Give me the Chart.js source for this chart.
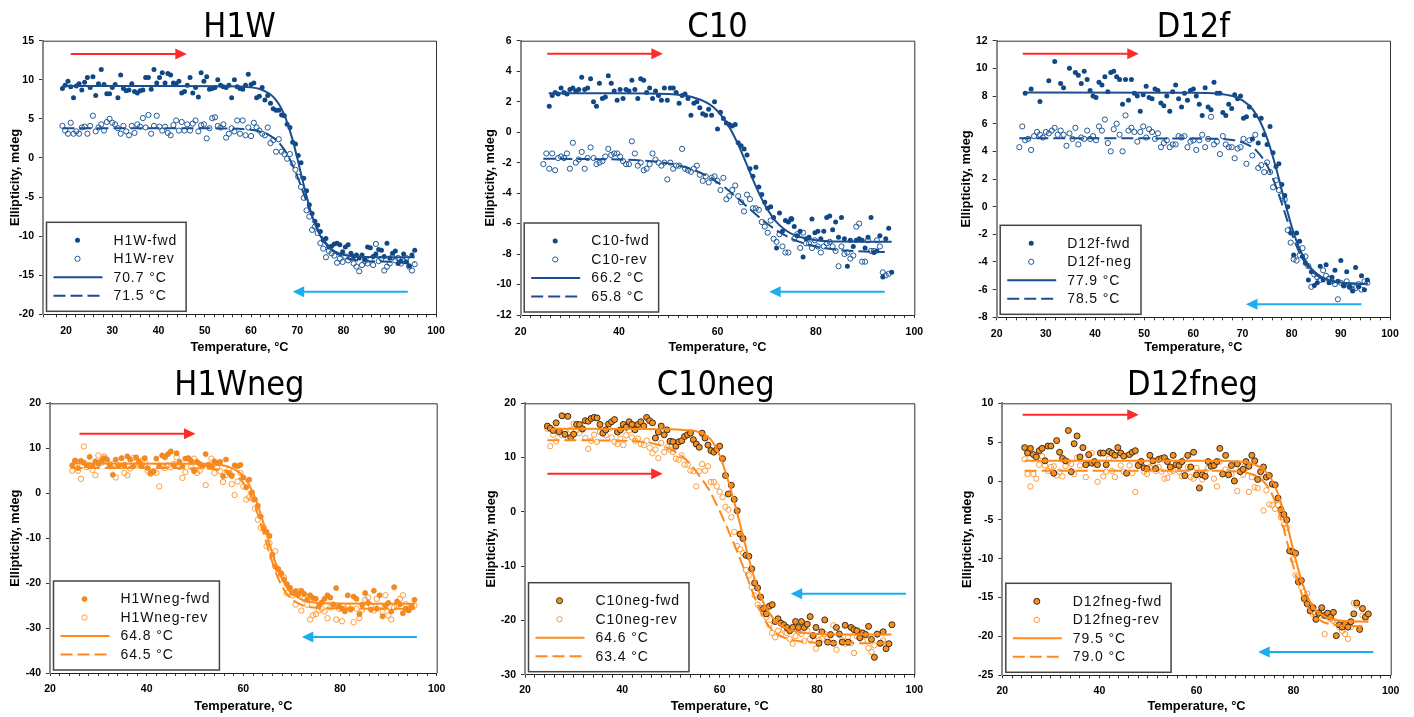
<!DOCTYPE html>
<html>
<head>
<meta charset="utf-8">
<title>Thermal melts</title>
<script src="https://cdn.jsdelivr.net/npm/chart.js@4.4.1/dist/chart.umd.min.js"></script>
<style>
  body { margin: 0; background: #fff; overflow: hidden; }
  #wrap { position: relative; width: 1414px; height: 717px; }
  #wrap canvas { position: absolute; }
</style>
</head>
<body>
<div id="wrap"></div>
<script>
// Temperature grids (°C)
const tempsH1W = [
  19.2,19.8,20.4,21,21.6,22.2,22.8,23.4,24,24.6,
  25.2,25.8,26.4,27,27.6,28.2,28.8,29.4,30,30.6,
  31.2,31.8,32.4,33,33.6,34.2,34.8,35.4,36,36.6,
  37.2,37.8,38.4,39,39.6,40.2,40.8,41.4,42,42.6,
  43.2,43.8,44.4,45,45.6,46.2,46.8,47.4,48,48.6,
  49.2,49.8,50.4,51,51.6,52.2,52.8,53.4,54,54.6,
  55.2,55.8,56.4,57,57.6,58.2,58.8,59.4,60,60.6,
  61.2,61.8,62.4,63,63.6,64.2,64.8,65.4,66,66.6,
  67.2,67.8,68.4,69,69.6,70.2,70.8,71.4,72,72.6,
  73.2,73.8,74.4,75,75.6,76.2,76.8,77.4,78,78.6,
  79.2,79.8,80.4,81,81.6,82.2,82.8,83.4,84,84.6,
  85.2,85.8,86.4,87,87.6,88.2,88.8,89.4,90,90.6,
  91.2,91.8,92.4,93,93.6,94.2,94.8,95.4
];
const tempsStd = [
  24.6,25.2,25.8,26.4,27,27.6,28.2,28.8,29.4,30,
  30.6,31.2,31.8,32.4,33,33.6,34.2,34.8,35.4,36,
  36.6,37.2,37.8,38.4,39,39.6,40.2,40.8,41.4,42,
  42.6,43.2,43.8,44.4,45,45.6,46.2,46.8,47.4,48,
  48.6,49.2,49.8,50.4,51,51.6,52.2,52.8,53.4,54,
  54.6,55.2,55.8,56.4,57,57.6,58.2,58.8,59.4,60,
  60.6,61.2,61.8,62.4,63,63.6,64.2,64.8,65.4,66,
  66.6,67.2,67.8,68.4,69,69.6,70.2,70.8,71.4,72,
  72.6,73.2,73.8,74.4,75,75.6,76.2,76.8,77.4,78,
  78.6,79.2,79.8,80.4,81,81.6,82.2,82.8,83.4,84,
  84.6,85.2,85.8,86.4,87,87.6,88.2,88.8,89.4,90,
  90.6,91.2,91.8,92.4,93,93.6,94.2,94.8,95.4
];

// H1W ellipticity (mdeg)
const h1wFwd = [
  8.9,9.3,9.8,9.1,7.7,9.2,9.5,8.7,9.7,10.3,
  9.0,10.4,8.0,9.5,11.3,9.4,8.2,8.2,9.0,9.4,
  7.7,10.6,8.9,8.6,8.7,9.5,8.5,8.3,8.6,8.7,
  10.3,10.3,8.8,11.3,9.6,10.3,10.9,9.6,10.8,10.6,
  9.6,9.5,9.8,8.3,8.5,9.3,10.3,8.3,9.0,7.8,
  10.9,9.8,10.4,8.8,8.9,9.0,10.0,9.3,9.1,9.0,
  9.3,7.7,10.0,9.1,8.9,8.8,9.3,10.7,9.4,9.6,
  7.7,7.9,9.0,7.4,8.0,7.0,6.3,6.1,6.1,5.5,
  5.4,4.3,3.9,2.0,1.8,0.3,-0.6,-2.6,-4.2,-6.0,
  -7.1,-8.1,-8.6,-9.4,-10.5,-10.3,-11.4,-11.3,-11.0,-10.9,
  -11.1,-12.0,-11.4,-11.1,-12.2,-12.6,-12.4,-12.8,-12.4,-12.9,
  -11.4,-11.5,-12.6,-12.3,-11.7,-11.8,-12.6,-10.9,-12.8,-12.2,
  -11.9,-13.5,-13.2,-12.3,-13.3,-13.8,-12.4,-11.8
];
const h1wRev = [
  4.1,3.5,3.1,4.5,3.1,3.4,3.1,3.9,4.0,3.1,
  4.1,5.4,3.4,3.9,4.3,3.5,4.6,5.0,4.5,4.3,
  3.8,3.1,4.1,3.4,2.9,4.1,3.2,4.3,4.0,5.1,
  3.9,5.5,3.1,4.1,5.4,4.0,3.5,4.0,3.2,2.9,
  4.2,4.8,3.5,4.6,3.5,4.3,3.5,4.4,4.8,3.4,
  4.2,4.3,2.5,3.8,5.1,5.2,4.1,3.9,4.3,2.6,
  3.1,3.8,3.4,4.8,3.1,4.8,2.9,3.9,2.8,4.5,
  3.9,3.5,3.1,2.9,3.9,1.9,2.3,0.8,2.4,0.8,
  0.5,-0.1,0.5,-0.7,-1.5,-2.4,-3.7,-5.1,-6.7,-7.5,
  -9.2,-8.8,-9.6,-10.9,-11.6,-12.7,-11.9,-12.2,-12.5,-13.4,
  -12.9,-13.3,-12.6,-13.1,-12.8,-13.5,-13.9,-14.5,-13.7,-13.2,
  -13.5,-13.0,-13.7,-11.0,-13.2,-12.9,-14.4,-13.9,-13.5,-12.7,
  -13.1,-12.8,-13.5,-13.2,-12.8,-13.9,-14.4,-13.6
];
const fitH1WT = [19.2,40,55,60,62,64,65,66,67,68,69,70,71,72,73,74,75,76,77,78,80,82,85,95.4];
const fitH1WFwd = [9.2,9.2,9.18,9.03,8.79,8.21,7.68,6.89,5.77,4.24,2.28,-0.02,-2.5,-4.88,-7.0,-8.7,-9.98,-10.89,-11.51,-11.93,-12.39,-12.57,-12.66,-12.7];
const fitH1WRev = [3.8,3.8,3.77,3.6,3.37,2.9,2.5,1.97,1.23,0.28,-0.94,-2.34,-3.93,-5.57,-7.15,-8.56,-9.77,-10.73,-11.45,-12.0,-12.67,-13.0,-13.2,-13.3];

// C10
const c10Fwd = [
  null,null,1.7,2.4,2.6,2.5,2.9,2.6,2.5,2.8,
  2.9,2.7,2.8,3.6,2.8,2.9,3.5,2.0,1.7,3.2,
  2.2,2.3,3.7,3.2,2.7,2.1,2.8,2.2,2.8,2.7,
  3.4,2.8,2.2,3.5,3.4,2.6,2.9,2.2,2.7,2.4,
  2.1,2.9,2.1,2.9,2.9,2.6,1.9,2.4,2.5,2.2,
  1.1,1.9,2.0,1.6,1.2,1.1,1.5,1.1,2.0,0.2,
  1.3,0.9,0.6,0.5,0.4,0.5,-0.7,-0.9,-1.1,-1.5,
  -2.4,-2.9,-2.3,-3.6,-4.1,-4.6,-5.0,-4.9,-5.6,-7.6,
  -5.3,-6.5,-5.8,-5.9,-5.7,-6.2,-6.8,-6.5,-8.2,-7.0,
  -6.9,-5.7,-6.6,-6.5,-7.0,-6.5,-5.6,-5.5,-6.4,-5.9,
  -6.9,-5.6,-7.0,-8.8,-7.1,-7.5,-7.1,-7.0,-7.1,-7.6,
  -6.9,-5.6,-7.9,-7.8,-6.8,-9.5,-7.0,-6.3,-9.2
];
const c10Rev = [
  -2.1,-1.4,-2.4,-1.4,-2.5,-1.7,-1.6,-1.7,-1.4,-2.4,
  -0.7,-2.0,-1.8,-1.3,-2.4,-1.7,-1.0,-1.7,-2.1,-2.0,
  -1.9,-1.6,-1.1,-1.5,-1.4,-1.4,-1.6,-1.9,-2.1,-2.1,
  -0.6,-1.4,-2.2,-2.0,-2.5,-2.4,-2.1,-1.4,-1.8,-2.0,
  -2.2,-2.0,-3.1,-2.0,-2.4,-2.2,-2.2,-1.1,-2.4,-2.5,
  -2.6,-2.4,-2.2,-2.8,-3.2,-2.9,-3.3,-3.0,-2.9,-3.2,
  -3.8,-3.0,-4.4,-4.2,-3.8,-3.5,-4.2,-4.6,-5.2,-4.1,
  -4.4,-5.0,-5.0,-5.1,-5.9,-6.2,-6.6,-5.8,-7.0,-7.2,
  -6.7,-7.5,-7.9,-7.9,-5.7,-7.0,-6.7,-7.6,-6.6,-7.3,
  -7.3,-7.6,-7.1,-7.5,-7.9,-7.5,-7.3,-7.2,-7.5,-7.8,
  -8.8,-7.5,-8.0,-7.9,-8.3,-8.1,-6.2,-6.0,-8.5,-8.5,
  -7.1,-7.8,-7.8,-7.1,-7.5,-9.2,-9.4,-9.3,null
];
const fitC10FwdT = [25.7,40,50,55,58,60,62,64,66,68,70,72,74,76,80,85,95.4];
const fitC10Fwd = [2.55,2.55,2.5,2.29,1.9,1.39,0.54,-0.67,-2.17,-3.71,-4.99,-5.9,-6.47,-6.8,-7.09,-7.18,-7.2];
const fitC10RevT = [24.6,35,45,50,55,58,60,62,64,66,68,70,72,75,78,82,86,90,94];
const fitC10Rev = [-1.75,-1.77,-1.87,-2.05,-2.46,-2.9,-3.3,-3.76,-4.31,-4.89,-5.45,-5.98,-6.44,-6.98,-7.34,-7.62,-7.77,-7.84,-7.87];

// D12f
const d12fFwd = [
  null,null,8.2,null,8.5,null,null,7.6,null,null,
  9.1,null,10.5,null,8.9,8.6,null,10.0,null,9.7,
  9.5,8.9,9.8,9.2,8.4,8.0,7.9,9.0,8.8,9.4,
  8.3,9.7,9.8,9.4,9.2,7.4,9.2,7.7,9.2,8.2,
  8.0,6.9,8.1,8.7,7.9,7.8,8.5,8.4,7.5,7.3,
  8.0,6.9,8.3,8.8,7.8,7.2,8.2,7.7,8.4,8.5,
  8.0,7.4,6.6,8.6,7.2,7.0,9.0,8.2,8.2,6.8,
  6.6,7.4,7.1,8.1,7.8,8.0,6.4,6.5,7.2,4.9,
  6.6,4.6,6.4,5.2,4.5,5.8,3.9,2.9,3.1,1.6,
  0.8,0.0,-1.9,-3.5,-1.9,-2.5,-3.6,-4.1,-5.3,-4.7,
  -5.7,-5.5,-4.3,-5.3,-4.2,-5.5,-5.1,-4.6,-5.4,-3.9,
  -5.7,-4.7,-5.8,-6.1,-4.4,-5.8,-5.0,-6.0,-5.3
];
const d12fRev = [
  4.3,5.8,4.8,4.9,4.1,5.1,5.4,5.2,5.0,5.4,
  5.3,5.5,5.7,5.2,5.5,5.2,4.4,5.3,4.9,5.7,
  4.5,5.0,4.9,5.5,4.9,5.1,4.8,5.8,5.5,6.3,
  4.6,4.0,5.6,6.0,5.2,4.0,6.6,5.5,5.7,5.4,
  4.7,5.4,5.8,5.0,5.6,5.4,4.9,5.3,4.3,4.6,
  4.8,4.3,4.5,4.5,5.1,5.0,5.1,4.3,4.7,4.8,
  4.1,4.8,5.2,4.3,4.9,6.5,4.5,4.7,3.8,5.1,
  4.5,4.3,4.3,3.5,4.2,4.3,4.9,3.1,4.8,3.7,
  5.2,2.8,3.0,2.5,3.2,2.5,1.4,1.9,1.2,0.8,
  0.5,-1.7,-2.6,-3.8,-3.9,-3.5,-3.0,-3.6,-4.3,-5.8,
  -4.9,-5.1,-5.3,-4.6,-5.0,-5.2,-5.4,-5.6,-6.7,-5.5,
  -5.7,-5.4,-5.8,-6.0,-5.9,-5.6,-6.0,-5.4,-5.5
];
const fitD12fFwdT = [26.2,60,65,68,70,72,73,74,75,76,77,78,79,80,81,82,83,84,86,88,91,95.5];
const fitD12fFwd = [8.25,8.24,8.17,7.99,7.68,7.06,6.53,5.84,4.94,3.83,2.56,1.19,-0.17,-1.43,-2.5,-3.35,-4.0,-4.49,-5.08,-5.36,-5.52,-5.58];
const fitD12fRevT = [24.6,65,68,70,72,73,74,75,76,77,78,79,80,81,82,83,84,86,88,91,95];
const fitD12fRev = [4.95,4.91,4.82,4.65,4.29,3.98,3.55,2.97,2.2,1.27,0.23,-0.87,-1.93,-2.85,-3.61,-4.2,-4.63,-5.16,-5.4,-5.54,-5.6];

// H1Wneg
const h1wnFwd = [
  6.2,7.2,5.6,7.2,6.8,6.2,8.1,6.0,7.1,6.5,
  7.2,7.8,7.5,6.3,4.1,7.5,6.0,7.8,6.3,8.2,
  7.5,6.0,8.0,7.1,6.2,7.8,5.6,4.5,4.9,7.7,
  6.2,8.4,8.0,8.7,9.3,6.2,8.9,7.0,6.0,7.7,
  7.8,7.2,4.9,7.0,6.5,6.2,8.7,6.3,6.0,7.1,
  6.7,7.0,3.8,7.5,4.5,3.8,6.2,6.0,6.3,3.5,
  1.3,3.0,0.2,-1.4,-2.8,-5.2,-7.9,-8.6,-9.5,-13.6,
  -16.3,-16.9,-17.8,-19.2,-20.2,-21.1,-22.2,-21.8,-22.5,-21.7,
  -22.4,-23.7,-22.7,-23.3,-23.5,-25.2,-24.3,-23.5,-22.7,-23.2,
  -24.7,-21.1,-25.2,-25.7,-26.3,-22.7,-25.9,-23.0,-23.5,-26.9,
  -24.8,-22.2,-24.4,-25.9,-21.7,-25.7,-22.7,-27.4,-25.0,-24.4,
  -26.3,-20.9,-24.1,-24.7,-26.7,-25.7,-26.1,-25.4,-23.7
];
const h1wnRev = [
  5.0,7.2,5.0,3.2,10.4,5.8,6.2,5.2,4.0,8.4,
  6.7,8.2,7.1,6.0,6.5,3.5,6.2,6.0,4.5,4.0,
  5.5,7.8,6.2,6.5,7.2,7.0,5.0,4.3,4.7,4.5,
  1.5,6.0,5.6,6.2,5.8,6.5,8.0,5.8,3.4,4.7,
  7.7,5.8,7.7,4.5,5.0,6.0,1.8,6.3,7.7,4.5,
  5.6,4.9,2.5,4.0,5.2,2.0,-0.4,2.6,4.5,1.5,
  -1.4,-0.9,-1.2,-3.4,-5.9,-7.7,-7.6,-11.8,-11.1,-14.3,
  -12.9,-16.9,-18.1,-18.7,-22.2,-21.1,-22.7,-24.8,-21.8,-26.1,
  -23.5,-24.8,-28.1,-27.2,-26.9,-26.1,-25.7,-26.3,-27.8,-25.4,
  -25.0,-28.1,-25.7,-28.5,-25.7,-25.2,-25.7,-28.7,-25.7,-27.8,
  -25.9,-23.7,-23.2,-25.0,-26.1,-23.5,-25.0,-26.4,-22.7,-27.2,
  -28.1,-25.4,-25.0,-23.5,-22.7,-24.7,-25.9,-25.2,-25.0
];
const fitH1WnFwdT = [24.6,50,55,57,59,60,61,62,63,64,65,66,67,68,69,70,72,74,77,95.5];
const fitH1WnFwd = [6.6,6.57,6.31,5.86,4.75,3.73,2.2,0.08,-2.7,-6.07,-9.74,-13.34,-16.5,-19.0,-20.9,-22.18,-23.62,-24.21,-24.5,-24.6];
const fitH1WnRevT = [24.3,50,55,57,59,60,61,62,63,64,65,66,67,68,69,70,72,74,77,95.5];
const fitH1WnRev = [5.6,5.57,5.26,4.74,3.47,2.32,0.63,-1.7,-4.7,-8.2,-11.9,-15.4,-18.4,-20.7,-22.4,-23.57,-24.84,-25.36,-25.6,-25.7];

// C10neg
const c10nFwd = [
  15.8,15.4,15.0,16.4,14.8,17.7,14.3,17.6,13.7,14.3,
  16.1,16.1,15.3,16.8,16.7,17.2,17.4,17.3,16.1,14.5,
  15.1,16.2,16.6,17.0,14.7,15.1,16.1,15.6,16.6,16.1,
  15.1,16.1,16.6,15.8,17.4,16.8,16.4,13.6,14.7,15.8,
  14.2,15.1,13.0,12.9,12.1,12.9,13.1,13.9,14.2,14.5,
  13.3,12.5,11.9,14.5,13.6,12.3,11.3,11.0,11.5,12.1,
  9.8,6.7,3.3,4.9,2.3,0.2,-4.1,-4.9,-8.0,-8.2,
  -10.5,-13.1,-14.0,-15.7,-17.8,-18.8,-17.4,-17.1,-20.2,-19.7,
  -20.5,-20.8,-21.3,-21.9,-21.3,-20.2,-21.3,-20.2,-21.3,-20.7,
  -19.3,-22.8,-21.3,-24.2,-22.1,-19.9,-24.0,-22.6,-24.2,-21.3,
  -22.5,-24.0,-20.9,-24.0,-21.3,-21.7,-21.9,-23.2,-22.3,-22.6,
  -21.1,-23.5,-26.8,-22.5,-24.2,-22.1,-25.2,-24.3,-20.8
];
const c10nRev = [
  15.3,12.1,14.2,13.0,14.5,14.1,14.8,13.6,15.1,16.2,
  15.0,14.5,15.1,13.6,11.6,13.1,14.2,12.9,14.7,15.9,
  14.1,15.3,13.7,12.9,12.5,13.5,12.3,14.1,15.0,13.7,
  13.1,13.5,12.5,12.3,13.1,11.8,10.8,11.5,9.9,12.7,
  11.0,11.9,11.5,11.0,9.8,9.6,10.4,8.7,8.7,7.6,
  7.5,4.7,7.5,8.8,7.6,8.4,5.5,5.5,4.7,3.7,
  2.7,0.9,0.4,-1.0,-3.7,-6.3,-6.9,-7.6,-10.7,-11.7,
  -13.9,-15.4,-17.1,-17.7,-18.8,-19.4,-20.8,-22.3,-23.1,-21.9,
  -22.6,-21.5,-22.3,-23.4,-24.3,-22.9,-22.1,-22.5,-23.8,-21.9,
  -23.4,-22.9,-25.2,-23.6,-23.4,-22.5,-23.2,-22.8,-20.9,-25.4,
  -22.6,-23.6,-24.3,-23.1,-24.2,-26.0,-22.9,-22.1,-23.8,-22.8,
  -25.1,-25.8,-24.6,-22.6,-24.3,-23.7,-24.3,null,null
];
const fitC10nFwdT = [24.9,45,50,53,55,57,58,59,60,61,62,63,64,65,66,67,68,69,70,72,74,77,80,95.3];
const fitC10nFwd = [15.3,15.28,15.2,15.05,14.9,14.2,13.5,12.3,10.4,7.9,5.0,1.8,-1.6,-5.14,-8.6,-11.84,-14.54,-16.7,-18.38,-20.52,-21.6,-22.28,-22.5,-22.6];
const fitC10nRevT = [24.6,40,45,48,50,52,54,56,57,58,59,60,61,62,63,64,65,66,67,68,69,70,71,72,74,77,80,94.3];
const fitC10nRev = [13.2,13.1,12.8,12.2,11.5,10.4,8.8,6.4,5.2,3.8,2.0,0.2,-1.8,-3.9,-6.0,-8.2,-10.5,-12.9,-15.3,-17.5,-19.4,-20.9,-21.9,-22.6,-23.4,-23.9,-24.1,-24.2];

// D12fneg
const d12fnFwd = [
  4.3,3.6,4.2,3.4,3.1,3.9,4.2,2.6,4.5,4.5,
  1.0,5.2,3.7,2.9,2.6,6.5,1.2,4.8,5.8,3.1,
  4.3,2.1,3.4,2.3,2.5,2.1,3.6,3.6,2.1,3.8,
  3.6,3.3,4.3,3.6,3.2,1.0,3.4,3.7,3.9,2.0,
  2.5,1.7,1.6,3.3,2.6,1.6,2.8,2.9,3.0,2.5,
  1.8,3.3,2.1,2.0,2.5,0.7,3.3,1.8,3.7,0.8,
  -0.9,0.8,0.6,2.5,1.9,2.0,2.5,4.2,0.9,3.3,
  0.8,2.0,0.0,2.2,1.2,1.5,2.5,1.9,3.3,2.6,
  0.2,1.2,1.8,0.5,0.7,-0.4,-0.5,-2.2,-3.7,-4.3,
  -5.0,-9.0,-9.1,-9.3,-13.0,-12.8,-15.1,-15.8,-16.7,-16.3,
  -17.8,-17.0,-16.3,-17.3,-17.0,-17.5,-16.9,-19.9,-18.5,-18.8,
  -18.4,-18.8,-18.1,-17.1,-15.7,-19.1,-16.4,-17.5,-17.1
];
const d12fnRev = [
  2.8,0.9,-0.7,0.9,0.3,2.1,3.2,2.0,1.3,1.8,
  1.9,0.7,1.2,0.6,1.9,2.5,2.2,0.9,3.0,2.0,
  4.3,0.5,3.3,3.6,2.1,-0.1,3.6,0.6,1.2,2.9,
  1.3,0.5,3.3,2.0,1.2,3.3,2.0,1.0,-1.4,2.2,
  2.6,1.2,0.9,1.8,2.2,1.3,1.8,1.2,0.3,0.4,
  1.2,1.3,1.5,1.2,0.6,2.8,1.8,0.5,0.3,1.7,
  1.0,0.2,1.2,1.7,2.2,0.3,-0.7,2.5,0.9,1.5,
  1.2,0.9,0.0,-1.3,1.9,0.8,1.7,-1.4,0.5,-0.8,
  -0.9,0.3,-3.8,-1.2,-3.0,-3.1,-3.6,-3.1,-4.7,-5.6,
  -6.0,-9.0,-10.1,-12.1,-12.7,-13.7,-15.3,-14.5,-15.9,-17.1,
  -17.5,-16.9,-17.3,-19.7,-17.5,-17.8,-18.0,-18.3,-18.8,-19.3,
  -19.7,-20.3,-18.8,-15.7,-16.0,-18.9,-17.3,-17.8,null
];
const fitD12fnFwdT = [24.6,65,70,72,74,75,76,77,78,79,80,81,82,83,84,85,87,90,95.4];
const fitD12fnFwd = [2.62,2.61,2.42,2.12,1.36,0.63,-0.46,-2.02,-4.04,-6.47,-9.03,-11.46,-13.49,-15.04,-16.13,-16.86,-17.62,-17.99,-18.1];
const fitD12fnRevT = [24.6,65,70,72,73,74,75,76,77,78,79,80,81,82,83,84,86,88,91,95];
const fitD12fnRev = [1.33,1.31,1.11,0.74,0.38,-0.19,-1.05,-2.32,-4.06,-6.24,-8.68,-11.13,-13.31,-15.05,-16.31,-17.18,-18.11,-18.48,-18.65,-18.7];

// Legend entries
const legendH1W = ['H1W-fwd', 'H1W-rev', '70.7 °C', '71.5 °C'];
const legendC10 = ['C10-fwd', 'C10-rev', '66.2 °C', '65.8 °C'];
const legendD12f = ['D12f-fwd', 'D12f-neg', '77.9 °C', '78.5 °C'];
const legendH1Wn = ['H1Wneg-fwd', 'H1Wneg-rev', '64.8 °C', '64.5 °C'];
const legendC10n = ['C10neg-fwd', 'C10neg-rev', '64.6 °C', '63.4 °C'];
const legendD12fn = ['D12fneg-fwd', 'D12fneg-rev', '79.5 °C', '79.0 °C'];

// Styles
const SANS = "'Liberation Sans', Arial, Helvetica, sans-serif";
const schemes = {
  blue: {
    fwd: { bg: '#104886', border: '#104886', bw: 0, r: 2.5 },
    rev: { bg: 'rgba(0,0,0,0)', border: '#1f5997', bw: 1, r: 2.6 },
    line: '#1a4e8e'
  },
  orange: {
    fwd: { bg: '#f58a1f', border: '#e57d16', bw: 0.5, r: 2.6 },
    rev: { bg: 'rgba(0,0,0,0)', border: '#ff9a35', bw: 1, r: 2.7 },
    line: '#ff8a1a'
  },
  orangeEdge: {
    fwd: { bg: '#f7901e', border: '#3a2a1c', bw: 1, r: 3 },
    rev: { bg: 'rgba(0,0,0,0)', border: '#ff9a35', bw: 1, r: 2.7 },
    line: '#ff8a1a'
  }
};

function pairs(xs, ys) {
  const out = [];
  ys.forEach((v, i) => { if (v !== null) out.push({ x: xs[i], y: v }); });
  return out;
}

// Panel layout: canvas box [left, top, w, h], plot area [left, right, top, bottom]
const panels = [
  { title: 'H1W', box: [0, 0, 470, 358], area: [43, 436, 40.7, 314.3],
    x: [15, 100, 10], y: [-20, 15, 5], yTitlePad: 7.3, xTickPad: 8, titleShift: 0,
    temps: tempsH1W, fwd: h1wFwd, rev: h1wRev,
    fitFwd: [fitH1WT, fitH1WFwd], fitRev: [fitH1WT, fitH1WRev],
    names: legendH1W, scheme: 'blue',
    red: [21, 46.1, 13.3], cyan: [93.9, 69.0, -17.1] },
  { title: 'C10', box: [470, 0, 470, 358], area: [50.7, 444.3, 40.7, 315],
    x: [20, 100, 20], y: [-12, 6, 2], yTitlePad: 12.8, xTickPad: 8, titleShift: 0,
    temps: tempsStd, fwd: c10Fwd, rev: c10Rev,
    fitFwd: [fitC10FwdT, fitC10Fwd], fitRev: [fitC10RevT, fitC10Rev],
    names: legendC10, scheme: 'blue',
    red: [25.4, 48.9, 5.15], cyan: [94.0, 70.5, -10.47] },
  { title: 'D12f', box: [940, 0, 474, 358], area: [56.7, 450, 40.7, 317.3],
    x: [20, 100, 10], y: [-8, 12, 2], yTitlePad: 18.8, xTickPad: 7.5, titleShift: 0,
    temps: tempsStd, fwd: d12fFwd, rev: d12fRev,
    fitFwd: [fitD12fFwdT, fitD12fFwd], fitRev: [fitD12fRevT, fitD12fRev],
    names: legendD12f, scheme: 'blue',
    red: [25.3, 48.9, 11.06], cyan: [94.2, 70.7, -7.06] },
  { title: 'H1Wneg', box: [0, 358, 470, 359], area: [50, 436.7, 45.3, 315],
    x: [20, 100, 20], y: [-40, 20, 10], yTitlePad: 7.6, xTickPad: 6.5, titleShift: -4,
    temps: tempsStd, fwd: h1wnFwd, rev: h1wnRev,
    fitFwd: [fitH1WnFwdT, fitH1WnFwd], fitRev: [fitH1WnRevT, fitH1WnRev],
    names: legendH1Wn, scheme: 'orange',
    red: [26.1, 50.1, 13.2], cyan: [95.9, 72.1, -32] },
  { title: 'C10neg', box: [470, 358, 470, 359], area: [55, 444.3, 45.3, 316.7],
    x: [20, 100, 20], y: [-30, 20, 10], yTitlePad: 13.5, xTickPad: 6.5, titleShift: -4,
    temps: tempsStd, fwd: c10nFwd, rev: c10nRev,
    fitFwd: [fitC10nFwdT, fitC10nFwd], fitRev: [fitC10nRevT, fitC10nRev],
    names: legendC10n, scheme: 'orangeEdge',
    red: [24.6, 48.3, 7.0], cyan: [98.3, 74.6, -15.1] },
  { title: 'D12fneg', box: [940, 358, 474, 359], area: [62.3, 450.7, 45.3, 317.3],
    x: [20, 100, 20], y: [-25, 10, 5], yTitlePad: 19.3, xTickPad: 7, titleShift: -4,
    temps: tempsStd, fwd: d12fnFwd, rev: d12fnRev,
    fitFwd: [fitD12fnFwdT, fitD12fnFwd], fitRev: [fitD12fnRevT, fitD12fnRev],
    names: legendD12fn, scheme: 'orangeEdge',
    red: [24.2, 48.1, 8.53], cyan: [96.4, 72.7, -22] }
];

// Top and right edges of the plot frame
const framePlugin = {
  id: 'frame',
  afterDatasetsDraw(chart) {
    const { ctx, chartArea: a } = chart;
    ctx.save();
    ctx.strokeStyle = '#333';
    ctx.lineWidth = 1;
    ctx.beginPath();
    ctx.moveTo(a.left, a.top + 0.5);
    ctx.lineTo(a.right + 0.5, a.top + 0.5);
    ctx.lineTo(a.right + 0.5, a.bottom);
    ctx.stroke();
    ctx.restore();
  }
};

// Panel title above the plot
const panelTitlePlugin = {
  id: 'panelTitle',
  afterDraw(chart, args, opts) {
    const { ctx, chartArea: a } = chart;
    ctx.save();
    ctx.font = "34px 'DejaVu Sans Condensed', 'DejaVu Sans', sans-serif";
    ctx.fillStyle = '#000';
    ctx.textAlign = 'center';
    ctx.textBaseline = 'alphabetic';
    ctx.fillText(opts.text, (a.left + a.right) / 2 + (opts.shift || 0), 36.5);
    ctx.restore();
  }
};

// Heating / cooling direction arrows, placed in data units
const arrowPlugin = {
  id: 'arrows',
  afterDatasetsDraw(chart, args, opts) {
    const { ctx, scales: { x, y } } = chart;
    (opts.items || []).forEach(a => {
      const x0 = x.getPixelForValue(a.from);
      const x1 = x.getPixelForValue(a.to);
      const yy = y.getPixelForValue(a.at);
      const dir = Math.sign(x1 - x0);
      ctx.save();
      ctx.strokeStyle = a.color;
      ctx.fillStyle = a.color;
      ctx.lineWidth = 2;
      ctx.beginPath();
      ctx.moveTo(x0, yy);
      ctx.lineTo(x1 - dir * 10, yy);
      ctx.stroke();
      ctx.beginPath();
      ctx.moveTo(x1, yy);
      ctx.lineTo(x1 - dir * 11.5, yy - 5.5);
      ctx.lineTo(x1 - dir * 11.5, yy + 5.5);
      ctx.closePath();
      ctx.fill();
      ctx.restore();
    });
  }
};

// Boxed legend in the lower-left corner, built from the datasets
const boxLegendPlugin = {
  id: 'boxLegend',
  afterDraw(chart) {
    const { ctx, chartArea: a } = chart;
    const sets = chart.data.datasets;
    ctx.save();
    ctx.font = '14px ' + SANS;
    if ('letterSpacing' in ctx) ctx.letterSpacing = '0.9px';
    const textW = Math.max(...sets.map(d => ctx.measureText(d.label).width));
    const bw = 67 + textW + 9, bh = 89;
    const bx = a.left + 3.5, by = a.bottom - 3 - bh;
    ctx.fillStyle = '#fff';
    ctx.fillRect(bx, by, bw, bh);
    ctx.strokeStyle = '#444';
    ctx.lineWidth = 1.5;
    ctx.strokeRect(bx, by, bw, bh);
    const rows = [18, 36.5, 55, 73.5];
    sets.forEach((d, i) => {
      const cy = by + rows[i];
      if (d.showLine) {
        ctx.strokeStyle = d.borderColor;
        ctx.lineWidth = d.borderWidth;
        ctx.setLineDash(d.borderDash || []);
        ctx.beginPath();
        ctx.moveTo(bx + 7, cy);
        ctx.lineTo(bx + 56, cy);
        ctx.stroke();
        ctx.setLineDash([]);
      } else {
        ctx.beginPath();
        ctx.arc(bx + 31, cy, d.pointRadius, 0, Math.PI * 2);
        ctx.fillStyle = d.pointBackgroundColor;
        ctx.fill();
        if (d.pointBorderWidth) {
          ctx.lineWidth = d.pointBorderWidth;
          ctx.strokeStyle = d.pointBorderColor;
          ctx.stroke();
        }
      }
      ctx.fillStyle = '#111';
      ctx.textAlign = 'left';
      ctx.textBaseline = 'middle';
      ctx.fillText(d.label, bx + 67, cy + 0.5);
    });
    ctx.restore();
  }
};

const wrap = document.getElementById('wrap');
const tickFont = { family: SANS, size: 10.5, weight: 'bold' };
const axisTitleFont = { family: SANS, size: 12.8, weight: 'bold' };

panels.forEach(p => {
  const [left, top, w, h] = p.box;
  const [aL, aR, aT, aB] = p.area;
  const st = schemes[p.scheme];
  const canvas = document.createElement('canvas');
  canvas.width = w;
  canvas.height = h;
  canvas.style.left = left + 'px';
  canvas.style.top = top + 'px';
  canvas.style.width = w + 'px';
  canvas.style.height = h + 'px';
  wrap.appendChild(canvas);

  new Chart(canvas, {
    type: 'scatter',
    data: {
      datasets: [
        { label: p.names[0], data: pairs(p.temps, p.fwd), showLine: false, order: 2,
          pointRadius: st.fwd.r, pointBackgroundColor: st.fwd.bg,
          pointBorderColor: st.fwd.border, pointBorderWidth: st.fwd.bw },
        { label: p.names[1], data: pairs(p.temps, p.rev), showLine: false, order: 3,
          pointRadius: st.rev.r, pointBackgroundColor: st.rev.bg,
          pointBorderColor: st.rev.border, pointBorderWidth: st.rev.bw },
        { label: p.names[2], data: pairs(p.fitFwd[0], p.fitFwd[1]), showLine: true, order: 1,
          pointRadius: 0, borderColor: st.line, borderWidth: 2, fill: false,
          cubicInterpolationMode: 'monotone' },
        { label: p.names[3], data: pairs(p.fitRev[0], p.fitRev[1]), showLine: true, order: 0,
          pointRadius: 0, borderColor: st.line, borderWidth: 2, borderDash: [12, 5], fill: false,
          cubicInterpolationMode: 'monotone' }
      ]
    },
    options: {
      responsive: false,
      animation: false,
      events: [],
      layout: { padding: { top: aT, right: w - aR, bottom: 0, left: 0 } },
      plugins: {
        legend: { display: false },
        tooltip: { enabled: false },
        colors: { enabled: false },
        panelTitle: { text: p.title, shift: p.titleShift },
        arrows: { items: [
          { from: p.red[0], to: p.red[1], at: p.red[2], color: '#ff2a2a' },
          { from: p.cyan[0], to: p.cyan[1], at: p.cyan[2], color: '#1aaef0' }
        ] }
      },
      scales: {
        x: {
          type: 'linear',
          min: p.x[0], max: p.x[1],
          afterFit: s => { s.height = h - aB; },
          ticks: {
            stepSize: 2, autoSkip: false, maxRotation: 0, minRotation: 0,
            padding: p.xTickPad, color: '#000', font: tickFont,
            callback: v => (v >= 20 && v % p.x[2] === 0 ? String(v) : '')
          },
          grid: { drawOnChartArea: false, tickLength: 3, tickColor: '#333', tickWidth: 1 },
          border: { color: '#222', width: 1 },
          title: { display: true, text: 'Temperature, °C', color: '#000', font: axisTitleFont,
                   padding: { top: 0, bottom: 3 } }
        },
        y: {
          type: 'linear',
          min: p.y[0], max: p.y[1],
          afterFit: s => { s.width = aL; },
          ticks: { stepSize: p.y[2], padding: 5, color: '#000', font: tickFont },
          grid: { drawOnChartArea: false, tickLength: 4, tickColor: '#333', tickWidth: 1 },
          border: { color: '#8a8a8a', width: 2 },
          title: { display: true, text: 'Ellipticity, mdeg', color: '#000', font: axisTitleFont,
                   padding: { top: p.yTitlePad, bottom: 0 } }
        }
      }
    },
    plugins: [framePlugin, arrowPlugin, boxLegendPlugin, panelTitlePlugin]
  });
});
</script>
</body>
</html>
